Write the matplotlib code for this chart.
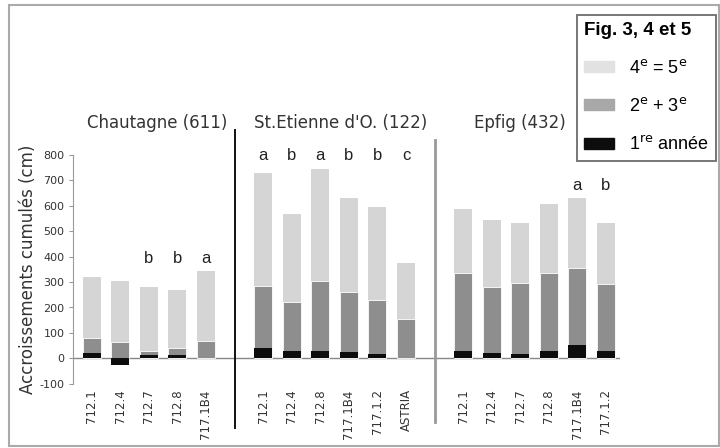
import numpy as np
import matplotlib
matplotlib.use("Agg")
from matplotlib import pyplot as plt
from matplotlib.patches import Patch, Rectangle

# cumulative growth (cm) per clone, three sites
sites = ["Chautagne (611)", "St.Etienne d'O. (122)", "Epfig (432)"]
clones = [
    ["712.1", "712.4", "712.7", "712.8", "717.1B4"],
    ["712.1", "712.4", "712.8", "717.1B4", "717.1.2", "ASTRIA"],
    ["712.1", "712.4", "712.7", "712.8", "717.1B4", "717.1.2"],
]
year1 = [
    [20, -25, 12, 12, 2],
    [40, 30, 30, 26, 17, 0],
    [30, 20, 15, 30, 53, 30],
]
years23 = [
    [79, 66, 30, 40, 70],
    [283, 220, 303, 261, 230, 155],
    [336, 281, 296, 336, 356, 294],
]
years45 = [
    [322, 303, 279, 267, 342],
    [731, 570, 747, 632, 597, 375],
    [589, 544, 534, 609, 630, 534],
]
letters = [
    ["", "", "b", "b", "a"],
    ["a", "b", "a", "b", "b", "c"],
    ["", "", "", "", "a", "b"],
]
yticks = [-100, 0, 100, 200, 300, 400, 500, 600, 700, 800]

LIGHT = "#d5d5d5"
MID = "#8e8e8e"
DARK = "#0d0d0d"
W = 0.63
title_shift = [0.3, 0.2, -0.5]

fig = plt.figure(figsize=(7.2, 4.48), dpi=100)
ax = fig.add_axes([73 / 720, 1 - 383.7 / 448, 547 / 720, (383.7 - 155.1) / 448])

positions = []
start = 0
for g in range(len(sites)):
    pos = start + np.arange(len(clones[g]))
    positions.append(pos)
    start += len(clones[g]) + 1

all_pos = []
all_names = []
for g in range(len(sites)):
    pos = positions[g]
    ax.bar(pos, years45[g], W, color=LIGHT, zorder=2)
    ax.bar(pos, years23[g], W, color=MID, edgecolor="white", linewidth=0.6, zorder=3)
    ax.bar(pos, year1[g], W, color=DARK, zorder=4)
    top = max(years45[g]) + 50
    for x, lab in zip(pos, letters[g]):
        if lab:
            ax.text(x, top, lab, ha="center", va="center", fontsize=12,
                    family="Liberation Sans", color="#222")
    ax.text(pos.mean() + title_shift[g], 926, sites[g], ha="center", va="center",
            fontsize=12, color="#333", clip_on=False)
    all_pos.extend(pos)
    all_names.extend(clones[g])

# separators between sites
ax.plot([5, 5], [900, -274], color="#111", lw=1.4, clip_on=False, zorder=5)
ax.plot([12, 12], [860, -250], color="#999", lw=2, clip_on=False, zorder=5)

ax.axhline(0, color="#888", lw=1, zorder=1)
ax.set_xlim(-0.655, 18.49)
ax.set_ylim(-100, 800)

ax.set_yticks(yticks)
ax.set_yticklabels([str(v) for v in yticks], fontsize=8, color="#333")
ax.set_xticks(all_pos)
ax.set_xticklabels(all_names, rotation=90, fontsize=8.5, color="#333")
ax.tick_params(axis="x", length=0, pad=4)
ax.tick_params(axis="y", length=3, color="#999", pad=3)
for s in ["top", "right", "bottom"]:
    ax.spines[s].set_visible(False)
ax.spines["left"].set_color("#999")
ax.set_ylabel("Accroissements cumulés (cm)", fontsize=12, color="#333", labelpad=2)

handles = [Patch(color="#e2e2e2"), Patch(color="#a8a8a8"), Patch(color=DARK)]
labels = ["4$^{\\mathrm{e}}$ = 5$^{\\mathrm{e}}$", "2$^{\\mathrm{e}}$ + 3$^{\\mathrm{e}}$",
          "1$^{\\mathrm{re}}$ année"]
leg = fig.legend(handles, labels, loc="upper right", bbox_to_anchor=(716 / 720, 1 - 15 / 448),
                 title="Fig. 3, 4 et 5", title_fontproperties={"weight": "bold", "size": 13.5,
                                                               "family": "Liberation Sans"},
                 alignment="left", fancybox=False, edgecolor="#777", framealpha=1,
                 prop={"family": "Liberation Sans", "size": 13}, handlelength=1.7,
                 handleheight=0.55, labelspacing=1.1, borderpad=0.4, handletextpad=0.8,
                 borderaxespad=0)
leg.set_zorder(10)
leg.get_frame().set_linewidth(1.4)

fig.add_artist(Rectangle((9 / 720, 2 / 448), 710 / 720, 441 / 448, transform=fig.transFigure,
                         fill=False, edgecolor="#aaa", lw=1.5))

fig.savefig("out.png", dpi=100)
